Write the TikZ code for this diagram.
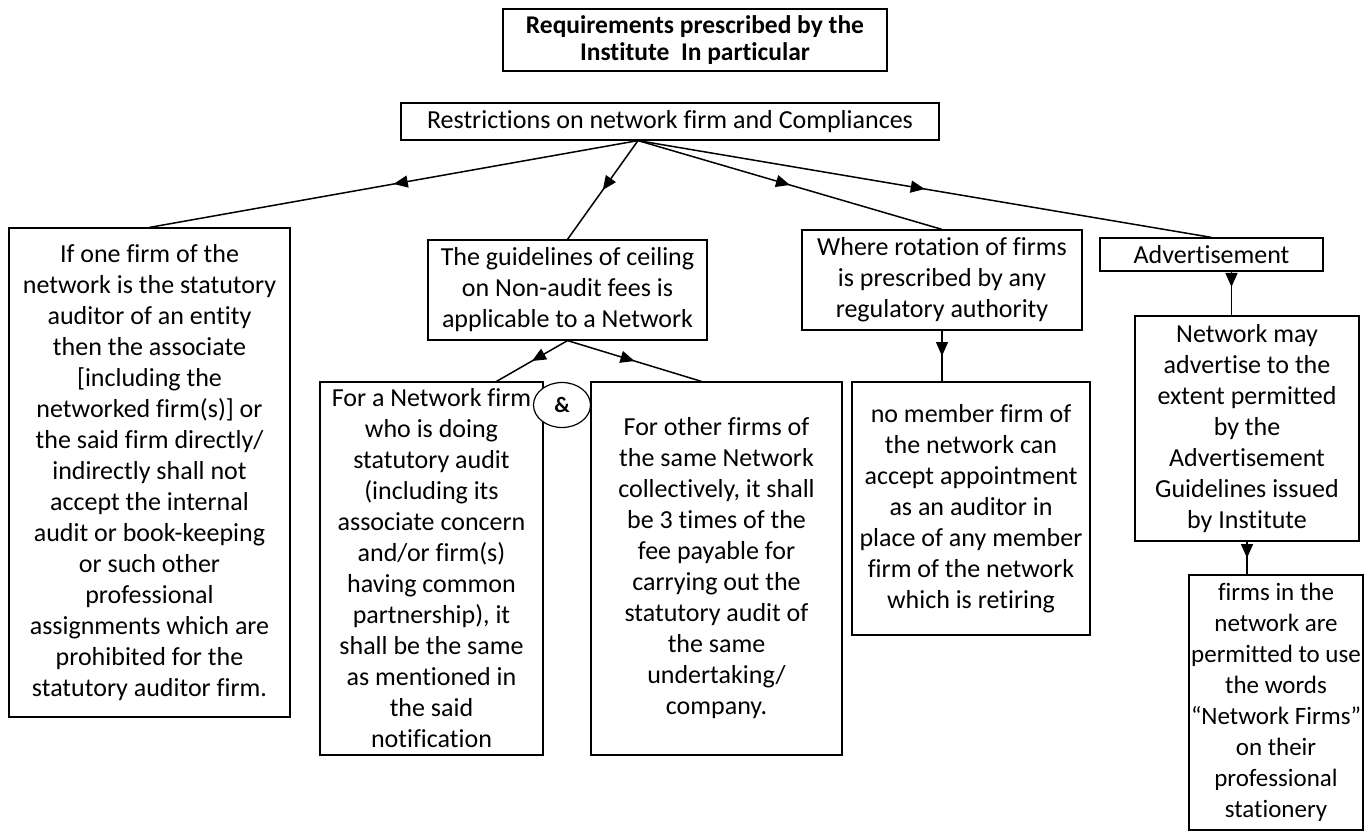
\documentclass[tikz,border=0pt]{standalone}
\usepackage{fontspec}
\setmainfont{Carlito}[Ligatures=NoCommon]
\usetikzlibrary{arrows.meta,shapes.geometric,decorations.markings}
\tikzset{
  box/.style={draw, line width=1.2pt, align=center, inner sep=2pt,
    font=\fontsize{26}{31}\selectfont},
  midarrow/.style={line width=1.5pt, postaction={decorate},
    decoration={markings, mark=at position #1 with {\arrow{Triangle[length=14pt,width=12pt]}}}},
  midarrow/.default=0.5
}
\begin{document}
\begin{tikzpicture}[x=1pt,y=-1pt]
\useasboundingbox (0,0) rectangle (1367,832);
% heading
\node[box, minimum width=384pt, minimum height=62pt, font=\fontsize{25.5}{27}\selectfont\bfseries] (title) at (695,40) {Requirements prescribed by the\\Institute\ \ In particular};
\node[box, minimum width=538pt, minimum height=37pt] (rest) at (670,121.5) {Restrictions on network firm and Compliances};
\coordinate (hub) at ([xshift=-32pt]rest.south);
% second row
\node[box, minimum width=281pt, minimum height=489pt] (stat) at (149.5,472.5) {If one firm of the\\network is the statutory\\auditor of an entity\\then the associate\\{[}including the\\networked firm(s)] or\\the said firm directly/\\indirectly shall not\\accept the internal\\audit or book-keeping\\or such other\\professional\\assignments which are\\prohibited for the\\statutory auditor firm.};
\node[box, minimum width=279pt, minimum height=100pt] (ceil) at (567.5,290) {The guidelines of ceiling\\on Non-audit fees is\\applicable to a Network};
\node[box, minimum width=280pt, minimum height=100pt] (rot) at (942,280) {Where rotation of firms\\is prescribed by any\\regulatory authority};
\node[box, minimum width=223pt, minimum height=33pt] (adv) at (1211.5,254.5) {Advertisement};
% third row
\node[box, minimum width=223pt, minimum height=373pt] (own) at (431.5,568.5) {For a Network firm\\who is doing\\statutory audit\\(including its\\associate concern\\and/or firm(s)\\having common\\partnership), it\\shall be the same\\as mentioned in\\the said\\notification};
\node[box, minimum width=251pt, minimum height=373pt] (other) at (716.5,568.5) {For other firms of\\the same Network\\collectively, it shall\\be 3 times of the\\fee payable for\\carrying out the\\statutory audit of\\the same\\undertaking/\\company.};
\node[draw, ellipse, fill=white, line width=1.2pt, minimum width=57pt, minimum height=45pt, inner sep=0pt, font=\fontsize{22}{26}\selectfont\bfseries] (amp) at (562,405) {\&};
\node[box, minimum width=238pt, minimum height=253pt] (nomem) at (971,508.5) {no member firm of\\the network can\\accept appointment\\as an auditor in\\place of any member\\firm of the network\\which is retiring};
\node[box, minimum width=224pt, minimum height=225pt] (advok) at (1247,428.5) {Network may\\advertise to the\\extent permitted\\by the\\Advertisement\\Guidelines issued\\by Institute};
\node[box, minimum width=172pt, minimum height=255pt, font=\fontsize{25}{31}\selectfont] (words) at (1276,702.5) {firms in the\\network are\\permitted to use\\the words\\“Network Firms”\\on their\\professional\\stationery};
% connectors
\draw[midarrow] (hub) -- (stat.north);
\draw[midarrow] (hub) -- (ceil.north);
\draw[midarrow] (hub) -- (rot.north);
\draw[midarrow] (hub) -- (adv.north);
\draw[midarrow] (ceil.south) -- ([xshift=65pt]own.north);
\draw[midarrow] (ceil.south) -- ([xshift=-15pt]other.north);
\draw[midarrow] (rot.south) -- (rot.south |- nomem.north);
\draw[midarrow=0.35] ([xshift=20pt]adv.south) -- ([xshift=20pt]adv.south |- advok.north);
\draw[midarrow] (advok.south) -- (advok.south |- words.north);
\end{tikzpicture}
\end{document}
